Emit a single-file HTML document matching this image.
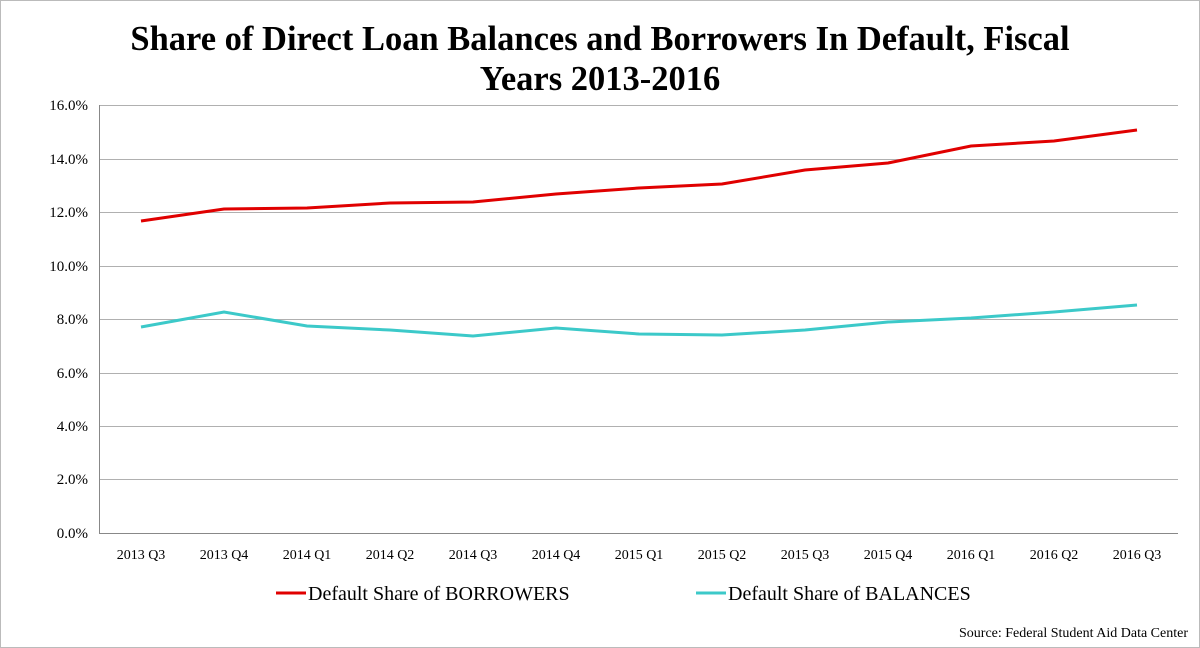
<!DOCTYPE html>
<html><head><meta charset="utf-8"><style>
body{margin:0;background:#fff;}
svg{display:block;font-family:"Liberation Serif",serif;}
</style></head><body>
<svg width="1200" height="648" viewBox="0 0 1200 648">
<rect x="0.5" y="0.5" width="1199" height="647" fill="#fff" stroke="#bbb"/>
<text x="600" y="50" text-anchor="middle" font-size="34.5" font-weight="bold">Share of Direct Loan Balances and Borrowers In Default, Fiscal</text>
<text x="600" y="90" text-anchor="middle" font-size="34.5" font-weight="bold">Years 2013-2016</text>
<g stroke="#b0b0b0" stroke-width="1">
<line x1="99" x2="1178" y1="105.5" y2="105.5"/>
<line x1="99" x2="1178" y1="159.5" y2="159.5"/>
<line x1="99" x2="1178" y1="212.5" y2="212.5"/>
<line x1="99" x2="1178" y1="266.5" y2="266.5"/>
<line x1="99" x2="1178" y1="319.5" y2="319.5"/>
<line x1="99" x2="1178" y1="373.5" y2="373.5"/>
<line x1="99" x2="1178" y1="426.5" y2="426.5"/>
<line x1="99" x2="1178" y1="479.5" y2="479.5"/>
</g>
<line x1="99.5" x2="99.5" y1="105" y2="533" stroke="#888"/>
<line x1="99" x2="1178" y1="533.5" y2="533.5" stroke="#888"/>
<g font-size="15" text-anchor="end">
<text x="88" y="110">16.0%</text><text x="88" y="164">14.0%</text><text x="88" y="217">12.0%</text>
<text x="88" y="271">10.0%</text><text x="88" y="324">8.0%</text><text x="88" y="378">6.0%</text>
<text x="88" y="431">4.0%</text><text x="88" y="484">2.0%</text><text x="88" y="538">0.0%</text>
</g>
<g font-size="14" text-anchor="middle">
<text x="141" y="559">2013 Q3</text><text x="224" y="559">2013 Q4</text><text x="307" y="559">2014 Q1</text>
<text x="390" y="559">2014 Q2</text><text x="473" y="559">2014 Q3</text><text x="556" y="559">2014 Q4</text>
<text x="639" y="559">2015 Q1</text><text x="722" y="559">2015 Q2</text><text x="805" y="559">2015 Q3</text>
<text x="888" y="559">2015 Q4</text><text x="971" y="559">2016 Q1</text><text x="1054" y="559">2016 Q2</text>
<text x="1137" y="559">2016 Q3</text>
</g>
<polyline fill="none" stroke="#e00000" stroke-width="3" points="141,221 224,209 307,208 390,203 473,202 556,194 639,188 722,184 805,170 888,163 971,146 1054,141 1137,130"/>
<polyline fill="none" stroke="#3cc9c9" stroke-width="3" points="141,327 224,312 307,326 390,330 473,336 556,328 639,334 722,335 805,330 888,322 971,318 1054,312 1137,305"/>
<line x1="276" x2="306" y1="593" y2="593" stroke="#e00000" stroke-width="3"/>
<text x="308" y="600" font-size="20">Default Share of BORROWERS</text>
<line x1="696" x2="726" y1="593" y2="593" stroke="#3cc9c9" stroke-width="3"/>
<text x="728" y="600" font-size="20">Default Share of BALANCES</text>
<text x="1188" y="637" font-size="14" text-anchor="end">Source: Federal Student Aid Data Center</text>
</svg>
</body></html>
